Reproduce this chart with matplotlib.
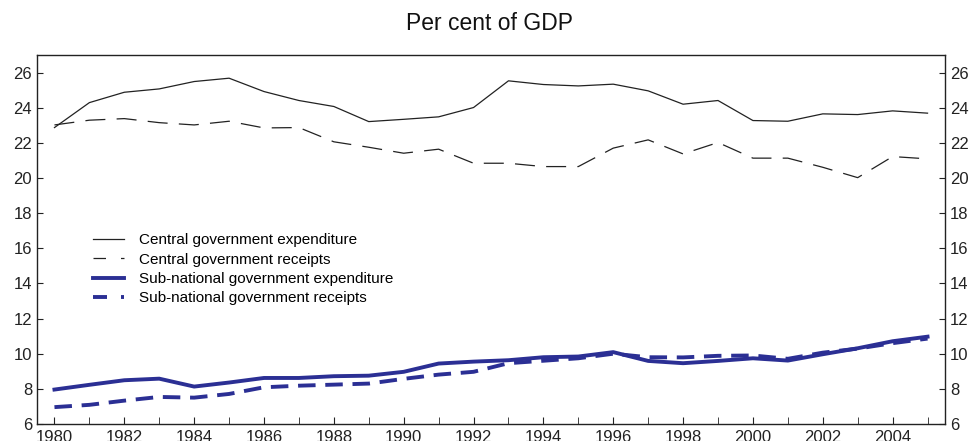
import matplotlib
matplotlib.use("Agg")
import matplotlib.pyplot as plt
from matplotlib.lines import Line2D
from matplotlib.ticker import MultipleLocator

years = list(range(1980, 2006))
central_exp = [22.87, 24.29, 24.88, 25.07, 25.49, 25.68, 24.92, 24.41, 24.07, 23.21,
               23.34, 23.48, 24.01, 25.53, 25.32, 25.24, 25.34, 24.96, 24.20, 24.41,
               23.27, 23.23, 23.65, 23.61, 23.82, 23.69]
central_rec = [23.02, 23.29, 23.38, 23.15, 23.02, 23.23, 22.85, 22.87, 22.06, 21.75,
               21.41, 21.64, 20.84, 20.84, 20.65, 20.65, 21.70, 22.17, 21.37, 22.02,
               21.13, 21.13, 20.61, 20.02, 21.22, 21.09]
sub_exp = [7.96, 8.23, 8.49, 8.58, 8.13, 8.36, 8.62, 8.62, 8.72, 8.75,
           8.97, 9.44, 9.55, 9.63, 9.80, 9.84, 10.09, 9.59, 9.46, 9.59,
           9.74, 9.61, 9.97, 10.31, 10.71, 10.97]
sub_rec = [6.96, 7.09, 7.33, 7.54, 7.50, 7.71, 8.09, 8.18, 8.24, 8.30,
           8.57, 8.81, 8.97, 9.46, 9.60, 9.74, 10.00, 9.80, 9.79, 9.88,
           9.90, 9.71, 10.06, 10.29, 10.60, 10.86]
labels = ["Central government expenditure", "Central government receipts",
          "Sub-national government expenditure", "Sub-national government receipts"]
title = "Per cent of GDP"

plt.rcParams['font.family'] = ['Liberation Sans', 'DejaVu Sans']
blue = '#2b2f94'
dark = '#222222'

fig = plt.figure(figsize=(9.69, 4.41), dpi=100)
ax = fig.add_axes([37/969, 1-424/441, (945-37)/969, (424-55)/441])

ax.plot(years, central_exp, color=dark, lw=0.9)
ax.plot(years, central_rec, color=dark, lw=0.9, dashes=(16, 9))
ax.plot(years, sub_exp, color=blue, lw=2.8)
ax.plot(years, sub_rec, color=blue, lw=2.8, dashes=(4.5, 2.5))

ax.set_xlim(1979.5, 2005.5)
ax.set_ylim(6, 27)
ax.set_xticks(range(1980, 2006, 2))
ax.xaxis.set_minor_locator(MultipleLocator(1))
ax.set_yticks(range(6, 27, 2))
ax.tick_params(axis='both', which='both', direction='in', labelsize=12, colors=dark)
ax.tick_params(axis='y', right=True, labelright=True, length=4)
ax.tick_params(axis='x', which='major', length=5, pad=4)
ax.tick_params(axis='x', which='minor', length=5)
for s in ax.spines.values():
    s.set_linewidth(1.0)
    s.set_color(dark)

proxies = [
    Line2D([], [], color=dark, lw=0.9),
    Line2D([], [], color=dark, lw=0.9, dashes=(10, 12)),
    Line2D([], [], color=blue, lw=2.8),
    Line2D([], [], color=blue, lw=2.8, dashes=(3.6, 3.6)),
]
ax.legend(proxies, labels, loc='upper left', bbox_to_anchor=(0.055, 0.533), frameon=False,
          fontsize=11, handlelength=2.0, handletextpad=1.0, labelspacing=0.35,
          borderaxespad=0)

fig.text(490/969, 1-23/441, title, ha='center', va='center', fontsize=16.5, color='#111111')

fig.savefig('out.png', dpi=100)
